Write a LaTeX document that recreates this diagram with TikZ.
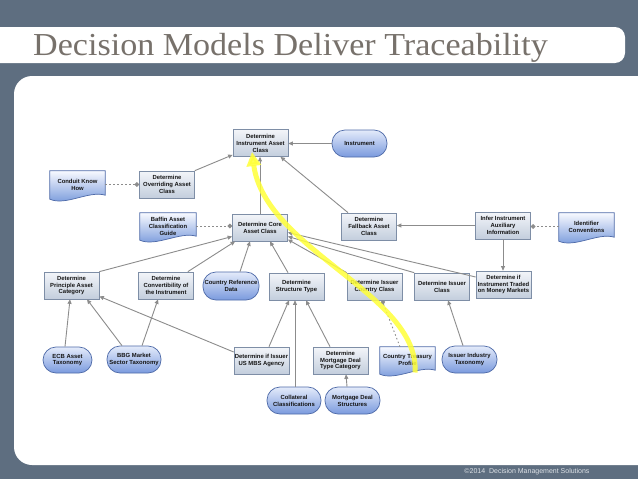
\documentclass[tikz,border=0pt]{standalone}
\usepackage{fontspec}
\setmainfont{Liberation Sans}
\newfontfamily\titlefont{Liberation Serif}
\usetikzlibrary{arrows.meta,calc}
\definecolor{slate}{HTML}{5E6E80}
\definecolor{titlegray}{HTML}{77716B}
\definecolor{dectop}{HTML}{F3F5F9}
\definecolor{decbot}{HTML}{C3CEDD}
\definecolor{decline}{HTML}{7E8EA6}
\definecolor{pilltop}{HTML}{E4EBFA}
\definecolor{pillbot}{HTML}{7A9ADE}
\definecolor{pilline}{HTML}{4E6AA8}
\definecolor{kstop}{HTML}{F8FAFF}
\definecolor{ksbot}{HTML}{6C90D8}
\definecolor{edgegray}{HTML}{8C8C8C}
\definecolor{hlyellow}{HTML}{FFFF38}
\definecolor{boxtext}{HTML}{151515}
\definecolor{foottext}{HTML}{DDE1E6}
\pgfdeclarelayer{back}
\pgfdeclarelayer{kslayer}
\pgfsetlayers{back,kslayer,main}
\begin{document}
\begin{tikzpicture}[x=1pt,y=-1pt,
  boxfont/.style={font=\fontsize{5.9}{6.9}\selectfont\bfseries, text=boxtext, align=center, inner sep=0pt},
  dec/.style={boxfont, rectangle, draw=decline, line width=0.7pt, top color=dectop, bottom color=decbot, minimum width=55pt, minimum height=27pt},
  pill/.style={boxfont, rectangle, rounded corners=13pt, draw=pilline, line width=0.7pt, top color=pilltop, bottom color=pillbot, minimum width=55pt, minimum height=27pt},
  ksnode/.style={boxfont, rectangle, minimum width=55pt, minimum height=27pt},
  ksshape/.style={draw=pilline, line width=0.7pt, top color=kstop, bottom color=ksbot},
  arr/.style={draw=edgegray, line width=0.9pt, -{Triangle[length=4.5pt,width=4pt]}},
  kreq/.style={draw=edgegray, line width=0.9pt, dash pattern=on 1.5pt off 2.5pt, -{Circle[length=4.5pt]}},
  hl/.style={draw=hlyellow, line width=5pt, opacity=0.85, -{Triangle[length=14pt,width=14pt]}}
]
\useasboundingbox (0,0) rectangle (638,479);
\begin{pgfonlayer}{back}
  \fill[slate] (0,0) rectangle (638,479);
  \fill[white, rounded corners=10pt] (-20,27) rectangle (625,63);
  \fill[white, rounded corners=18pt] (14,76) rectangle (680,465);
\end{pgfonlayer}

\node[anchor=base west, text=titlegray, inner sep=0pt] (title) at (33,55)
  {\scalebox{1.065}[1]{\titlefont\fontsize{32}{36}\selectfont Decision Models Deliver Traceability}};
\node[text=foottext, inner sep=0pt, font=\fontsize{7}{8}\selectfont] (footer) at (527,472)
  {\textcopyright2014\ \ Decision Management Solutions};

% decisions
\node[dec] (diac) at (260.5,143) {Determine\\Instrument Asset\\Class};
\node[dec] (doac) at (167,184.5) {Determine\\Overriding Asset\\Class};
\node[dec] (dcac) at (260,227.5) {Determine Core\\Asset Class};
\node[dec] (dfac) at (369,226.5) {Determine\\Fallback Asset\\Class};
\node[dec] (infer) at (503,225.5) {Infer Instrument\\Auxiliary\\Information};
\node[dec] (dpac) at (71.5,285.5) {Determine\\Principle Asset\\Category};
\node[dec] (dci) at (166,285.5) {Determine\\Convertibility of\\the Instrument};
\node[dec] (dst) at (296.5,286.5) {Determine\\Structure Type};
\node[dec] (dicc) at (374.5,286.5) {Determine Issuer\\Country Class};
\node[dec] (dic) at (442,286.5) {Determine Issuer\\Class};
\node[dec] (ditmm) at (503.5,284.5) {Determine if\\Instrument Traded\\on Money Markets};
\node[dec] (mbs) at (261.5,360.5) {Determine if Issuer\\US MBS Agency};
\node[dec] (mdtc) at (340.5,360.5) {Determine\\Mortgage Deal\\Type Category};

% input data
\node[pill] (instr) at (359.5,143.5) {Instrument};
\node[pill, minimum width=56pt, minimum height=28pt] (crd) at (231,286) {Country Reference\\Data};
\node[pill, minimum width=49pt, minimum height=26pt] (ecb) at (67.5,360) {ECB Asset\\Taxonomy};
\node[pill, minimum width=54pt] (bbg) at (134,359.5) {BBG Market\\Sector Taxonomy};
\node[pill] (iit) at (469.5,359.5) {Issuer Industry\\Taxonomy};
\node[pill, minimum width=54pt] (coll) at (294,400.5) {Collateral\\Classifications};
\node[pill] (mds) at (352.5,400.5) {Mortgage Deal\\Structures};

% knowledge sources
\node[ksnode] (ckh) at (77.5,184.5) {Conduit Know\\How};
\node[ksnode, minimum width=56pt, minimum height=26pt] (baffin) at (168,226) {Baffin Asset\\Classification\\Guide};
\node[ksnode] (idc) at (586.5,226.5) {Identifier\\Conventions};
\node[ksnode, minimum height=26pt] (ctp) at (407.5,360) {Country Treasury\\Profile};
\begin{pgfonlayer}{kslayer}
  \foreach \k in {ckh,baffin,idc,ctp}{
    \path[ksshape] (\k.north west) -- (\k.north east) -- ([yshift=3pt]\k.south east)
      .. controls +(-16pt,5pt) and +(16pt,-7pt) .. ([yshift=-1pt]\k.south west) -- cycle;
  }
\end{pgfonlayer}

% information requirements
\draw[arr] (instr.west) -- (instr.west -| diac.east);
\draw[arr] (doac.north east) -- ([yshift=2pt]diac.south west);
\draw[arr] (dcac.north) -- (dcac.north |- diac.south);
\draw[arr] ([xshift=-21pt]dfac.north) -- ([xshift=20pt]diac.south);
\draw[arr] (infer.west) -- (infer.west -| dfac.east);
\draw[arr] (infer.south) -- (infer.south |- ditmm.north);
\draw[arr] (dpac.north east) -- ([yshift=-9pt]dcac.west);
\draw[arr] ([xshift=-6pt]dci.north east) -- ([xshift=3pt]dcac.south west);
\draw[arr] ([xshift=9pt]crd.north) -- ([xshift=-10pt]dcac.south);
\draw[arr] ([xshift=-8.5pt]dst.north) -- ([xshift=10pt]dcac.south);
\draw[arr] (dicc.north west) -- ([yshift=-12pt]dcac.east);
\draw[arr] (dic.north west) -- ([yshift=-9pt]dcac.east);
\draw[arr] ([yshift=7.5pt]ditmm.west) -- ([yshift=-5pt]dcac.east);
\draw[arr] ([xshift=-2.5pt]ecb.north) -- ([xshift=-1.5pt]dpac.south);
\draw[arr] ([xshift=-12pt]bbg.north) -- ([xshift=15.5pt]dpac.south);
\draw[arr] ([xshift=8pt]bbg.north) -- ([xshift=-8pt]dci.south);
\draw[arr] ([yshift=8.5pt]mbs.west) -- ([yshift=3pt]dpac.south east);
\draw[arr] ([xshift=7.5pt]mbs.north) -- ([xshift=-7.5pt]dst.south);
\draw[arr] ([xshift=1pt]coll.north) -- ([xshift=-1.5pt]dst.south);
\draw[arr] ([xshift=-10.5pt]mdtc.north) -- ([xshift=9.5pt]dst.south);
\draw[arr] ([xshift=-5.5pt]mds.north) -- ([xshift=5.5pt]mdtc.south);
\draw[arr] ([xshift=-6.5pt]iit.north) -- ([xshift=6pt]dic.south);

% knowledge requirements
\draw[kreq] (ckh.east) -- (doac.west);
\draw[kreq] (baffin.east) -- (baffin.east -| dcac.west);
\draw[kreq] (idc.west) -- (idc.west -| infer.east);
\draw[kreq] ([xshift=-7.5pt]ctp.north) -- ([xshift=7.5pt]dicc.south);

% highlight
\draw[hl] ([xshift=7.5pt,yshift=-12.5pt]ctp.center) .. controls +(5,-78) and +(13,98) .. ([xshift=-8.5pt,yshift=-9pt]diac.center);
\end{tikzpicture}
\end{document}
